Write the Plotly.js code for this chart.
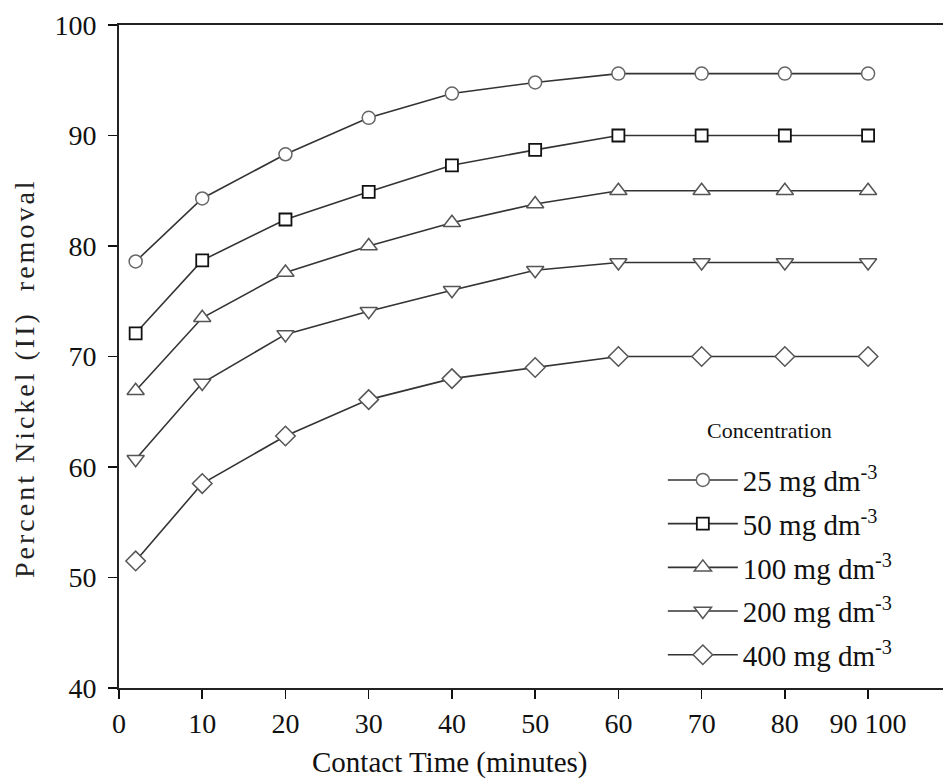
<!DOCTYPE html>
<html>
<head>
<meta charset="utf-8">
<script src="https://cdn.plot.ly/plotly-3.0.1.min.js"></script>
<style>
  html, body { margin: 0; padding: 0; background: #fff; }
  #chart { width: 943px; height: 781px; }
  .annotation[data-index="1"] .annotation-text { letter-spacing: 3px; }
</style>
</head>
<body>
<div id="chart"></div>
<script>
// Contact time (minutes)
const contactTime = [2, 10, 20, 30, 40, 50, 60, 70, 80, 90];

// Percent Nickel (II) removal for each initial concentration
const conc25  = [78.6, 84.3, 88.3, 91.6, 93.8, 94.8, 95.6, 95.6, 95.6, 95.6];
const conc50  = [72.1, 78.7, 82.4, 84.9, 87.3, 88.7, 90.0, 90.0, 90.0, 90.0];
const conc100 = [66.9, 73.5, 77.6, 80.0, 82.1, 83.8, 85.0, 85.0, 85.0, 85.0];
const conc200 = [60.7, 67.6, 72.0, 74.1, 76.0, 77.8, 78.5, 78.5, 78.5, 78.5];
const conc400 = [51.5, 58.5, 62.8, 66.1, 68.0, 69.0, 70.0, 70.0, 70.0, 70.0];

const seriesNames = ['25 mg dm<sup>-3</sup>', '50 mg dm<sup>-3</sup>', '100 mg dm<sup>-3</sup>',
                     '200 mg dm<sup>-3</sup>', '400 mg dm<sup>-3</sup>'];
const seriesValues = [conc25, conc50, conc100, conc200, conc400];

// Axis ticks and titles
const xTickVals = [0, 10, 20, 30, 40, 50, 60, 70, 80, 90];
const xTickText = ['0', '10', '20', '30', '40', '50', '60', '70', '80', '90 100'];
const yTickVals = [40, 50, 60, 70, 80, 90, 100];
const xTitle = 'Contact Time (minutes)';
const yTitle = 'Percent Nickel (II)  removal';
const legendTitle = 'Concentration';

// Styles (kept separate from data)
const markerStyles = [
  {symbol: 'circle',        size: 13, line: {color: '#666', width: 1.5}},
  {symbol: 'square',        size: 12, line: {color: '#111', width: 1.8}},
  {symbol: 'triangle-up',   size: 15, line: {color: '#555', width: 1.5}},
  {symbol: 'triangle-down', size: 15, line: {color: '#555', width: 1.5}},
  {symbol: 'diamond',       size: 15, line: {color: '#555', width: 1.5}}
];

const FONT = '"Liberation Serif", "Times New Roman", serif';

const traces = seriesValues.map((vals, i) => ({
  type: 'scatter',
  mode: 'lines+markers',
  x: contactTime,
  y: vals,
  name: seriesNames[i],
  legendgroup: 'g' + i,
  line: {color: '#333', width: 1.6},
  marker: Object.assign({color: '#fff'}, markerStyles[i]),
  cliponaxis: false
}));

const layout = {
  width: 943,
  height: 781,
  margin: {l: 119, r: 0, t: 25, b: 93},
  paper_bgcolor: '#fff',
  plot_bgcolor: '#fff',
  font: {family: FONT, color: '#111', size: 28},
  showlegend: true,
  legend: {
    x: 0.660, xanchor: 'left',
    y: 0.352, yanchor: 'top',
    bgcolor: 'rgba(0,0,0,0)',
    font: {family: FONT, size: 29, color: '#111'},
    traceorder: 'grouped',
    tracegroupgap: 3,
    itemwidth: 70
  },
  annotations: [
    {text: xTitle, xref: 'paper', yref: 'paper', x: 0.4017, y: -0.113,
     xanchor: 'center', yanchor: 'middle', showarrow: false,
     font: {family: FONT, size: 29, color: '#111'}},
    {text: yTitle, xref: 'paper', yref: 'paper', x: -0.114, y: 0.4676,
     xanchor: 'center', yanchor: 'middle', showarrow: false, textangle: -90,
     font: {family: FONT, size: 28, color: '#222'}},
    {text: legendTitle, xref: 'paper', yref: 'paper', x: 0.790, y: 0.389,
     xanchor: 'center', yanchor: 'middle', showarrow: false,
     font: {family: FONT, size: 22, color: '#111'}}
  ],
  xaxis: {
    range: [0, 99],
    tickmode: 'array',
    tickvals: xTickVals,
    ticktext: xTickText,
    ticks: 'outside',
    ticklen: 9,
    tickwidth: 1.5,
    tickcolor: '#111',
    showline: true,
    linecolor: '#222',
    linewidth: 2,
    mirror: true,
    showgrid: false,
    zeroline: false,
    tickfont: {family: FONT, size: 28, color: '#111'}
  },
  yaxis: {
    range: [40, 100],
    tickmode: 'array',
    tickvals: yTickVals,
    ticks: 'outside',
    ticklen: 9,
    tickwidth: 1.5,
    tickcolor: '#111',
    ticklabelstandoff: 6,
    showline: true,
    linecolor: '#222',
    linewidth: 2,
    mirror: false,
    showgrid: false,
    zeroline: false,
    tickfont: {family: FONT, size: 28, color: '#111'}
  }
};

Plotly.newPlot('chart', traces, layout, {displayModeBar: false, staticPlot: true});
</script>
</body>
</html>
